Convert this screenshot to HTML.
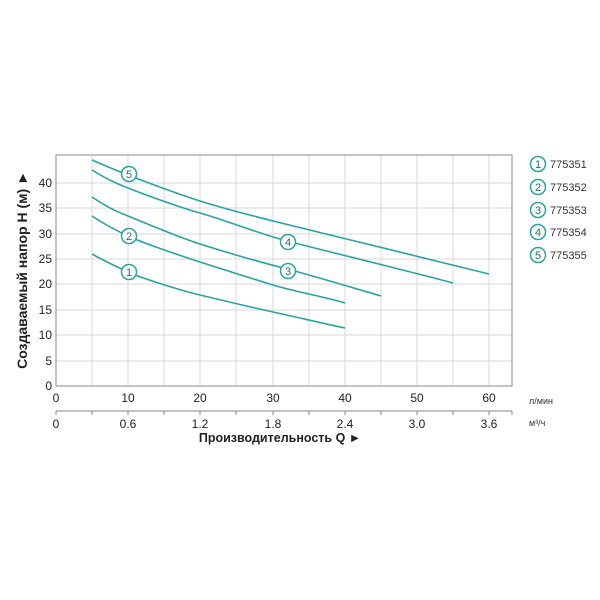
<!DOCTYPE html><html><head><meta charset="utf-8"><style>body{margin:0;background:#fff}svg{display:block;font-family:"Liberation Sans",sans-serif}</style></head><body>
<svg width="600" height="600" viewBox="0 0 600 600">
<g stroke="#d8d8d8" stroke-width="1">
<line x1="92" y1="155" x2="92" y2="386"/><line x1="128" y1="155" x2="128" y2="386"/><line x1="164" y1="155" x2="164" y2="386"/><line x1="200" y1="155" x2="200" y2="386"/><line x1="236" y1="155" x2="236" y2="386"/><line x1="273" y1="155" x2="273" y2="386"/><line x1="309" y1="155" x2="309" y2="386"/><line x1="345" y1="155" x2="345" y2="386"/><line x1="381" y1="155" x2="381" y2="386"/><line x1="417" y1="155" x2="417" y2="386"/><line x1="453" y1="155" x2="453" y2="386"/><line x1="489" y1="155" x2="489" y2="386"/>
<line x1="56" y1="361" x2="512" y2="361"/><line x1="56" y1="335" x2="512" y2="335"/><line x1="56" y1="310" x2="512" y2="310"/><line x1="56" y1="284" x2="512" y2="284"/><line x1="56" y1="259" x2="512" y2="259"/><line x1="56" y1="234" x2="512" y2="234"/><line x1="56" y1="208" x2="512" y2="208"/><line x1="56" y1="183" x2="512" y2="183"/>
</g>
<rect x="56" y="155" width="456" height="231" fill="none" stroke="#888" stroke-width="1"/>
<g fill="none" stroke="#2aa3a3" stroke-width="1.6" stroke-linejoin="round">
<path d="M92,254 C110,264 120,268 128,272 S175,289 200,295 S250,307 273,312 S330,325 345,328"/>
<path d="M92,216 C110,228 118,231 128,236 S175,254 200,262 S250,278 273,285 S330,298 345,303"/>
<path d="M92,197 C110,209 118,212 128,216 S175,236 200,244 S260,262 287,269 S360,290 381,296"/>
<path d="M92,170 C110,181 118,184 128,188 S175,206 200,213 S260,234 287,241 S420,274 453,283"/>
<path d="M92,160 C110,168 118,171 128,175 S175,193 200,201 S250,215 273,221 S450,264 489,274"/>
</g>
<g fill="#fff" stroke="#2aa3a3" stroke-width="1.5"><circle cx="129" cy="174" r="7.5"/><circle cx="129" cy="236" r="7.5"/><circle cx="129" cy="272" r="7.5"/><circle cx="288" cy="242" r="7.5"/><circle cx="288" cy="271" r="7.5"/>
<circle cx="538" cy="164" r="7.5"/><circle cx="538" cy="187" r="7.5"/><circle cx="538" cy="210" r="7.5"/><circle cx="538" cy="232" r="7.5"/><circle cx="538" cy="255" r="7.5"/></g>
<g font-size="11" fill="#2a6b6b" text-anchor="middle"><text x="129" y="178">5</text><text x="129" y="240">2</text><text x="129" y="276">1</text><text x="288" y="246">4</text><text x="288" y="275">3</text>
<text x="538" y="168">1</text><text x="538" y="191">2</text><text x="538" y="214">3</text><text x="538" y="236">4</text><text x="538" y="259">5</text></g>
<g font-size="11" fill="#333"><text x="550" y="168">775351</text><text x="550" y="191">775352</text><text x="550" y="214">775353</text><text x="550" y="236">775354</text><text x="550" y="259">775355</text></g>
<g font-size="12" fill="#222" text-anchor="end"><text x="52" y="390">0</text><text x="52" y="365">5</text><text x="52" y="339">10</text><text x="52" y="314">15</text><text x="52" y="288">20</text><text x="52" y="263">25</text><text x="52" y="238">30</text><text x="52" y="212">35</text><text x="52" y="187">40</text></g>
<g font-size="12" fill="#222" text-anchor="middle"><text x="56" y="402">0</text><text x="128" y="402">10</text><text x="200" y="402">20</text><text x="273" y="402">30</text><text x="345" y="402">40</text><text x="417" y="402">50</text><text x="489" y="402">60</text>
<text x="56" y="428">0</text><text x="128" y="428">0.6</text><text x="200" y="428">1.2</text><text x="273" y="428">1.8</text><text x="345" y="428">2.4</text><text x="417" y="428">3.0</text><text x="489" y="428">3.6</text></g>
<line x1="56" y1="411" x2="512" y2="411" stroke="#888"/>
<g stroke="#888"><line x1="56" y1="411" x2="56" y2="415"/><line x1="92" y1="411" x2="92" y2="415"/><line x1="128" y1="411" x2="128" y2="415"/><line x1="164" y1="411" x2="164" y2="415"/><line x1="200" y1="411" x2="200" y2="415"/><line x1="236" y1="411" x2="236" y2="415"/><line x1="273" y1="411" x2="273" y2="415"/><line x1="309" y1="411" x2="309" y2="415"/><line x1="345" y1="411" x2="345" y2="415"/><line x1="381" y1="411" x2="381" y2="415"/><line x1="417" y1="411" x2="417" y2="415"/><line x1="453" y1="411" x2="453" y2="415"/><line x1="489" y1="411" x2="489" y2="415"/><line x1="512" y1="411" x2="512" y2="415"/></g>
<text x="529" y="404" font-size="9" fill="#333">л/мин</text>
<text x="529" y="426" font-size="9" fill="#333">м³/ч</text>
<text x="280" y="442" font-size="12.5" font-weight="bold" fill="#222" text-anchor="middle">Производительность Q ►</text>
<text transform="translate(27,270) rotate(-90)" font-size="14" font-weight="bold" fill="#222" text-anchor="middle">Создаваемый напор H (м) ►</text>
</svg></body></html>
